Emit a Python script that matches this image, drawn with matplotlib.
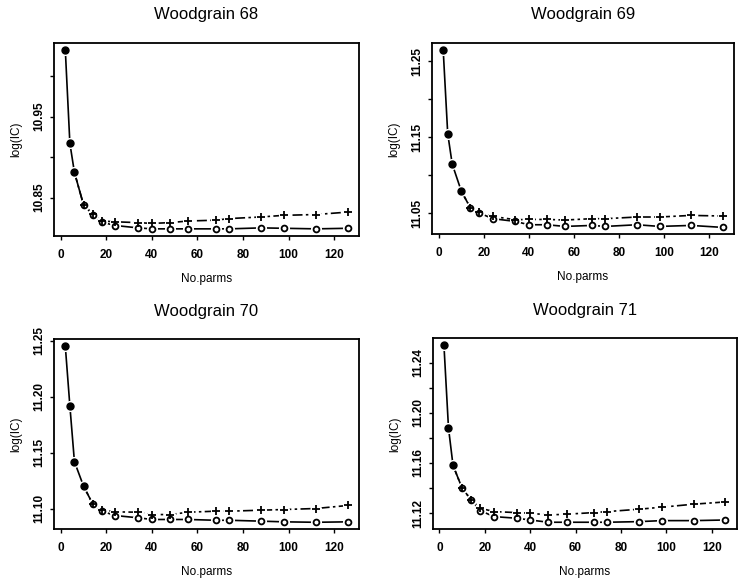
import matplotlib
matplotlib.use("Agg")
import matplotlib.pyplot as plt

plt.rcParams["font.family"] = ["Liberation Sans", "DejaVu Sans"]

# number of parameters of the fitted models (same for all four images)
n_parms = [2, 4, 6, 10, 14, 18, 24, 34, 40, 48, 56, 68, 74, 88, 98, 112, 126]

titles = ["Woodgrain 68", "Woodgrain 69", "Woodgrain 70", "Woodgrain 71"]

# '+' criterion (dashed) and 'o' criterion (solid)
plus_68 = [11.032, 10.917, 10.881, 10.841, 10.830, 10.821, 10.820, 10.819, 10.818,
           10.819, 10.821, 10.822, 10.824, 10.826, 10.828, 10.829, 10.832]
circ_68 = [11.032, 10.917, 10.881, 10.841, 10.829, 10.8195, 10.8154, 10.8125, 10.8113,
           10.8113, 10.8113, 10.8113, 10.8113, 10.8125, 10.812, 10.8113, 10.812]

plus_69 = [11.2646, 11.1546, 11.1144, 11.0791, 11.057, 11.051, 11.0455, 11.0411, 11.0415,
           11.0415, 11.0407, 11.0425, 11.0425, 11.0447, 11.0447, 11.0468, 11.046]
circ_69 = [11.2646, 11.1546, 11.1144, 11.0791, 11.057, 11.050, 11.0425, 11.0389, 11.0345,
           11.0345, 11.0323, 11.0336, 11.0323, 11.0345, 11.0323, 11.0336, 11.031]

plus_70 = [11.2448, 11.1916, 11.1418, 11.120, 11.1042, 11.0991, 11.097, 11.0967, 11.0946,
           11.0946, 11.0967, 11.0976, 11.0976, 11.0985, 11.0991, 11.100, 11.1027]
circ_70 = [11.2448, 11.1916, 11.1418, 11.120, 11.1042, 11.0976, 11.0937, 11.0917, 11.0902,
           11.0902, 11.0902, 11.0895, 11.0895, 11.0887, 11.0881, 11.0877, 11.0881]

plus_71 = [11.2538, 11.188, 11.1581, 11.140, 11.1306, 11.124, 11.1213, 11.1205, 11.120,
           11.1186, 11.1192, 11.1205, 11.1213, 11.1232, 11.1248, 11.1272, 11.129]
circ_71 = [11.2538, 11.188, 11.1581, 11.140, 11.1306, 11.1221, 11.1173, 11.116, 11.1146,
           11.1128, 11.1128, 11.1128, 11.1128, 11.1133, 11.1141, 11.1141, 11.1146]

plus_series = [plus_68, plus_69, plus_70, plus_71]
circ_series = [circ_68, circ_69, circ_70, circ_71]

# leading points where both criteria coincide (drawn as solid dots)
n_filled = [3, 4, 4, 3]

yticks = [
    [10.85, 10.90, 10.95, 11.00],
    [11.05, 11.10, 11.15, 11.20, 11.25],
    [11.10, 11.15, 11.20, 11.25],
    [11.12, 11.14, 11.16, 11.18, 11.20, 11.22, 11.24],
]
ylabels = [
    ["10.85", "", "10.95", ""],
    ["11.05", "", "11.15", "", "11.25"],
    ["11.10", "11.15", "11.20", "11.25"],
    ["11.12", "", "11.16", "", "11.20", "", "11.24"],
]
xticks = [0, 20, 40, 60, 80, 100, 120]

fig = plt.figure(figsize=(7.38, 5.79), dpi=100)
boxes = [
    [0.0732, 0.5924, 0.4133, 0.3333],
    [0.5854, 0.5950, 0.4090, 0.3307],
    [0.0732, 0.0858, 0.4133, 0.3282],
    [0.5863, 0.0858, 0.4119, 0.3299],
]

for i in range(4):
    ax = fig.add_axes(boxes[i])
    ax.margins(x=0.04, y=0.04)
    xs = n_parms
    ps = plus_series[i]
    cs = circ_series[i]
    k = n_filled[i]

    ax.plot(xs, cs, color="black", lw=1.2, zorder=2)
    ax.plot(xs[k - 1:], ps[k - 1:], color="black", lw=1.2, dashes=(6, 2, 1.5, 2), zorder=2)
    # white halos leave the small gaps round each point, as with type="b"
    ax.plot(xs, cs, ls="none", marker="o", ms=7, mfc="white", mec="white", zorder=3)
    ax.plot(xs[k:], ps[k:], ls="none", marker="o", ms=7, mfc="white", mec="white", zorder=3)
    ax.plot(xs[k:], cs[k:], ls="none", marker="o", ms=4.2, mfc="white", mec="black",
            mew=1.3, zorder=4)
    ax.plot(xs[k:], ps[k:], ls="none", marker="+", ms=6, mec="black", mew=1.3, zorder=5)
    ax.plot(xs[:k], cs[:k], ls="none", marker="o", ms=5, mfc="black", mec="black", zorder=5)

    ax.set_xticks(xticks)
    ax.set_xticklabels([str(t) for t in xticks], fontweight="bold")
    ax.set_yticks(yticks[i])
    ax.set_yticklabels(ylabels[i], fontweight="bold", rotation=90, va="center")
    ax.tick_params(direction="out", length=3, width=1, labelsize=8.5, pad=6)
    ax.tick_params(axis="y", pad=3)
    for s in ax.spines.values():
        s.set_linewidth(1.3)

    ax.set_title(titles[i], fontsize=12, pad=17)
    ax.set_xlabel("No.parms", fontsize=8.5, labelpad=9)
    ax.set_ylabel("log(IC)", fontsize=8.5, labelpad=8)

fig.savefig("out.png", dpi=100)
